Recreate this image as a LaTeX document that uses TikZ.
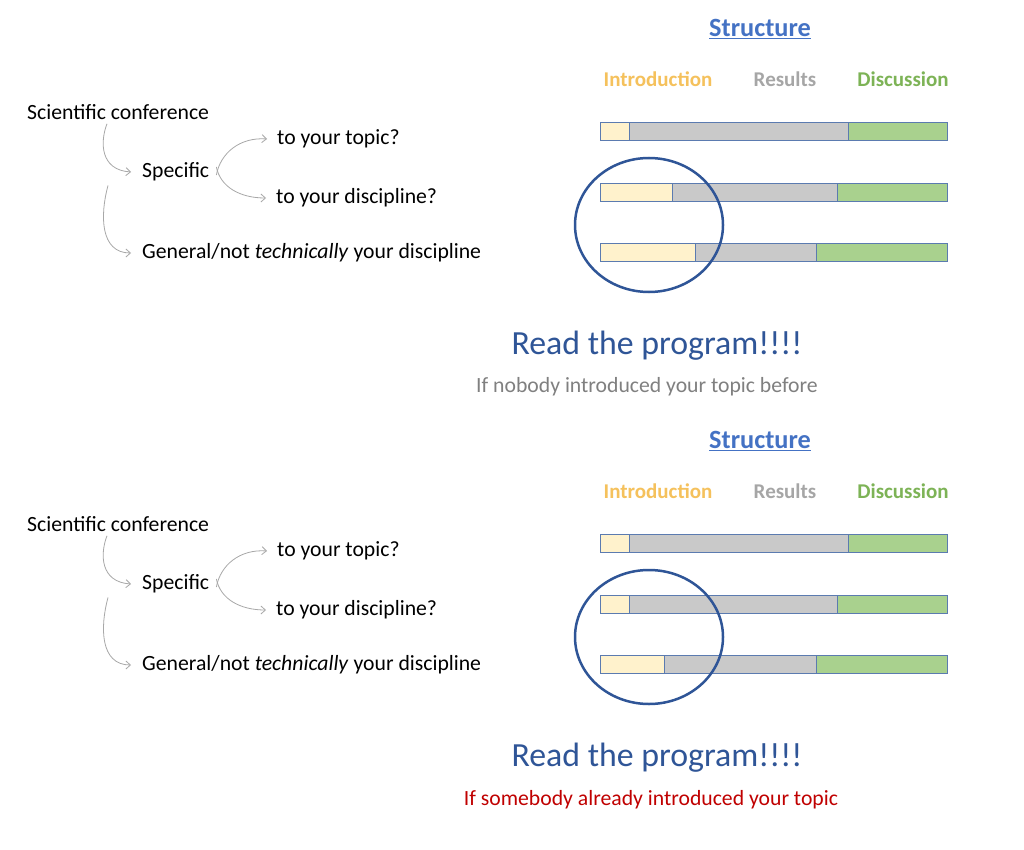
\documentclass[tikz,border=0pt]{standalone}
\usepackage{fontspec}
\setmainfont{Carlito}
\usetikzlibrary{arrows.meta}
\definecolor{introfill}{HTML}{FFF2CC}
\definecolor{resfill}{HTML}{C9C9C9}
\definecolor{discfill}{HTML}{A9D18E}
\definecolor{barline}{HTML}{5B7BB0}
\definecolor{circ}{HTML}{2F5597}
\definecolor{titleblue}{HTML}{4472C4}
\definecolor{introtxt}{HTML}{F5C15C}
\definecolor{restxt}{HTML}{A6A6A6}
\definecolor{disctxt}{HTML}{7DB356}
\definecolor{subgray}{HTML}{808080}
\definecolor{subred}{HTML}{C00000}
\definecolor{arrgray}{HTML}{A8A8A8}
\tikzset{
  lbl/.style={anchor=west,inner sep=0pt,font=\fontsize{21.7}{26}\selectfont,text=black},
  arr/.style={draw=arrgray,line width=0.8pt,-{Straight Barb[length=4.5pt,width=8pt]}},
  hdr/.style={inner sep=0pt,font=\fontsize{21}{25}\bfseries\selectfont},
  ttl/.style={inner sep=0pt,font=\fontsize{26.3}{31}\bfseries\selectfont,text=titleblue},
  big/.style={inner sep=0pt,font=\fontsize{33.8}{40}\selectfont,text=circ},
  sub/.style={inner sep=0pt,font=\fontsize{21.7}{26}\selectfont},
  seg/.style={draw=barline,line width=1pt},
  ring/.style={draw=circ,line width=2.5pt},
}
\newcommand{\mybar}[3]{% y, introEnd, resEnd
  \path[seg,fill=introfill] (600,#1) rectangle (#2,#1+18);
  \path[seg,fill=resfill] (#2,#1) rectangle (#3,#1+18);
  \path[seg,fill=discfill] (#3,#1) rectangle (947,#1+18);
}
\begin{document}
\begin{tikzpicture}[x=1pt,y=-1pt]
\useasboundingbox[fill=white] (0,0) rectangle (1024,850);
% ---------- top panel ----------
\node[lbl] (sc1) at (27,112) {Scientific conference};
\node[lbl] (sp1) at (142,172) {Specific};
\node[lbl] (tp1) at (277,139) {to your topic?};
\node[lbl] (td1) at (276,198) {to your discipline?};
\node[lbl] (ge1) at (142,253) {General/not \textit{technically} your discipline};
\draw[arr] ([xshift=80pt,yshift=-4pt]sc1.south west) .. controls +(-7,18) and (100,170) .. ([xshift=-11pt]sp1.west);
\draw[arr] ([xshift=-34pt,yshift=-4pt]sp1.south west) .. controls (100,215) and (100,253) .. ([xshift=-11pt]ge1.west);
\draw[arr] ([xshift=7pt,yshift=-3pt]sp1.east) .. controls +(4,-22) and (240,137) .. ([xshift=-10pt]tp1.west);
\draw[arr] ([xshift=7pt,yshift=5pt]sp1.east) .. controls +(4,20) and (240,198) .. ([xshift=-10pt]td1.west);
\node[ttl] (st1) at (760,29) {\underline{Structure}};
\node[hdr,text=introtxt] (in1) at (658,79) {Introduction};
\node[hdr,text=restxt] (re1) at (785,79) {Results};
\node[hdr,text=disctxt] (di1) at (903,79) {Discussion};
\mybar{122.5}{629}{848.5}
\mybar{183.5}{672.5}{837}
\mybar{243.5}{695}{816.5}
\draw[ring] (649,225) ellipse [x radius=74, y radius=67];
\node[big] (rp1) at (657,346) {Read the program!!!!};
\node[sub,text=subgray] (sb1) at (647,387) {If nobody introduced your topic before};
% ---------- bottom panel ----------
\begin{scope}[yshift=-412pt]
\node[lbl] (sc2) at (27,112) {Scientific conference};
\node[lbl] (sp2) at (142,172) {Specific};
\node[lbl] (tp2) at (277,139) {to your topic?};
\node[lbl] (td2) at (276,198) {to your discipline?};
\node[lbl] (ge2) at (142,253) {General/not \textit{technically} your discipline};
\draw[arr] ([xshift=80pt,yshift=-4pt]sc2.south west) .. controls +(-7,18) and (100,170) .. ([xshift=-11pt]sp2.west);
\draw[arr] ([xshift=-34pt,yshift=-4pt]sp2.south west) .. controls (100,215) and (100,253) .. ([xshift=-11pt]ge2.west);
\draw[arr] ([xshift=7pt,yshift=-3pt]sp2.east) .. controls +(4,-22) and (240,137) .. ([xshift=-10pt]tp2.west);
\draw[arr] ([xshift=7pt,yshift=5pt]sp2.east) .. controls +(4,20) and (240,198) .. ([xshift=-10pt]td2.west);
\node[ttl] (st2) at (760,29) {\underline{Structure}};
\node[hdr,text=introtxt] (in2) at (658,79) {Introduction};
\node[hdr,text=restxt] (re2) at (785,79) {Results};
\node[hdr,text=disctxt] (di2) at (903,79) {Discussion};
\mybar{122.5}{629}{848.5}
\mybar{183.5}{629}{837}
\mybar{243.5}{664}{816.5}
\draw[ring] (649,225) ellipse [x radius=74, y radius=67];
\node[big] (rp2) at (657,346) {Read the program!!!!};
\node[sub,text=subred] (sb2) at (651,388) {If somebody already introduced your topic};
\end{scope}
\end{tikzpicture}
\end{document}
